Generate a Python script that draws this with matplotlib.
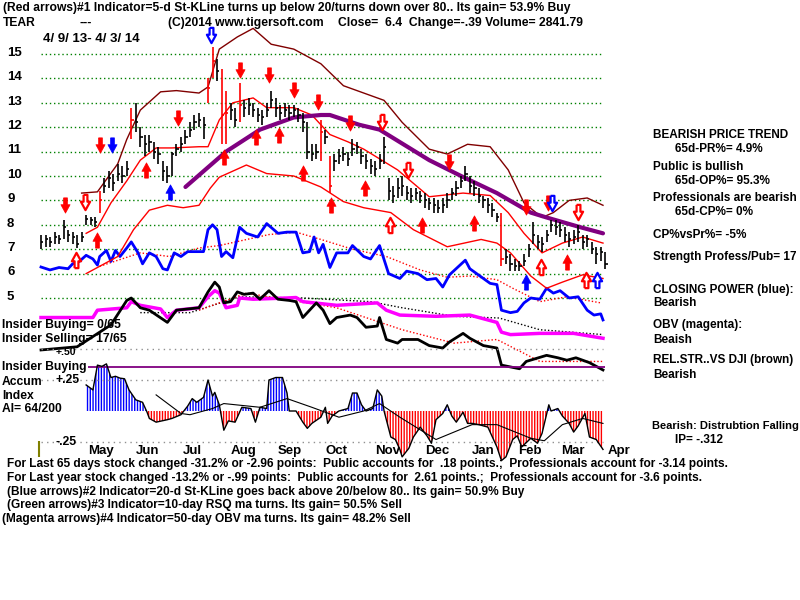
import matplotlib
matplotlib.use('Agg')
import matplotlib.pyplot as plt
import numpy as np
from matplotlib.transforms import blended_transform_factory

plt.rcParams['hatch.linewidth'] = 1.0

# price bars, one every 2 trading days (4/9/13 - 4/3/14)
close = [7.3, 7.4, 7.3, 7.5, 7.4, 7.9, 7.6, 7.5, 7.2, 7.5,
         8.25, 8.2, 8.1, 9.0, 9.6, 9.9, 9.7, 10.1, 10.0, 10.3,
         12.3, 12.2, 11.6, 11.3, 11.4, 11.0, 10.9, 10.2, 10.0, 10.9,
         11.1, 11.3, 11.6, 11.9, 12.2, 12.3, 12.1, 13.6, 14.7, 14.3,
         12.5, 12.6, 12.7, 12.3, 12.9, 12.8, 12.9, 12.7, 12.5, 12.4,
         12.7, 13.1, 12.8, 12.6, 12.7, 12.6, 12.7, 12.5, 12.2, 11.0,
         10.9, 11.0, 11.8, 11.6, 9.6, 10.6, 10.8, 10.9, 10.7, 11.1,
         11.2, 10.8, 10.6, 10.4, 10.3, 10.6, 11.2, 9.4, 9.2, 9.5,
         9.6, 9.3, 9.2, 9.3, 9.2, 9.0, 8.9, 8.8, 8.7, 8.8,
         9.0, 9.3, 9.5, 9.8, 10.1, 9.6, 9.5, 9.2, 9.0, 8.8,
         8.6, 8.3, 6.6, 6.7, 6.4, 6.3, 6.3, 6.5, 7.0, 7.6,
         7.3, 7.2, 7.6, 8.0, 7.9, 7.8, 7.6, 7.4, 7.5, 7.7,
         7.3, 7.4, 7.0, 6.8, 6.9, 6.4]
high = [7.6, 7.6, 7.5, 7.7, 7.6, 8.2, 7.8, 7.7, 7.6, 7.7,
        8.4, 8.3, 8.3, 9.4, 9.9, 10.2, 10.1, 10.5, 10.4, 10.6,
        12.8, 13.0, 12.0, 11.7, 11.7, 11.4, 11.2, 10.6, 10.4, 11.0,
        11.3, 11.6, 11.9, 12.2, 12.5, 12.6, 12.4, 14.0, 15.3, 14.8,
        14.4, 13.5, 13.0, 12.8, 13.8, 13.1, 13.2, 13.0, 12.8, 12.7,
        13.0, 13.5, 13.2, 12.9, 13.0, 12.9, 12.9, 12.8, 12.6, 12.2,
        11.3, 11.3, 12.3, 11.9, 10.8, 10.9, 11.1, 11.2, 11.0, 11.5,
        11.4, 11.1, 10.9, 10.7, 10.6, 10.9, 11.6, 9.9, 9.6, 9.9,
        10.0, 9.6, 9.5, 9.5, 9.4, 9.3, 9.1, 9.1, 9.0, 9.1,
        9.3, 9.5, 9.8, 10.0, 10.4, 10.0, 9.8, 9.5, 9.2, 9.1,
        8.9, 8.5, 8.5, 7.0, 6.8, 6.6, 6.5, 6.8, 7.2, 8.1,
        7.6, 7.5, 7.8, 8.2, 8.2, 8.1, 7.9, 7.7, 7.8, 8.0,
        7.6, 7.6, 7.3, 7.1, 7.1, 6.9]
low = [7.0, 7.1, 7.1, 7.2, 7.2, 7.4, 7.3, 7.2, 7.05, 7.3,
       8.0, 8.0, 7.9, 8.5, 9.3, 9.5, 9.4, 9.8, 9.7, 10.0,
       11.5, 11.8, 11.2, 10.8, 11.0, 10.7, 10.5, 9.8, 9.7, 10.0,
       10.8, 11.0, 11.3, 11.6, 11.9, 12.0, 11.5, 13.0, 14.0, 13.9,
       11.3, 11.3, 12.3, 12.0, 12.2, 12.4, 12.5, 12.4, 12.2, 12.1,
       12.4, 12.8, 12.4, 12.3, 12.4, 12.3, 12.4, 12.2, 11.8, 10.7,
       10.6, 10.7, 10.6, 11.3, 9.3, 10.2, 10.5, 10.6, 10.4, 10.8,
       10.9, 10.5, 10.3, 10.1, 10.0, 10.3, 10.5, 9.0, 8.9, 9.1,
       9.2, 9.0, 8.9, 9.0, 8.9, 8.7, 8.6, 8.5, 8.5, 8.5,
       8.7, 9.0, 9.2, 9.5, 9.8, 9.3, 9.2, 8.9, 8.7, 8.5,
       8.3, 8.1, 6.3, 6.4, 6.1, 6.1, 6.1, 6.3, 6.7, 7.2,
       7.0, 6.9, 7.3, 7.7, 7.6, 7.5, 7.3, 7.1, 7.2, 7.3,
       7.0, 7.1, 6.8, 6.4, 6.5, 6.2]
red_bars = [13, 20, 37, 38, 40, 41, 44, 62, 64, 102]

# bands and moving average (x = trading day)
upper_days = [18, 25, 34, 38, 44, 53, 60, 70, 74, 79, 87, 94, 102, 112, 124, 134, 143, 152,
              160, 172, 180, 189, 199, 207, 214, 222, 227, 234, 242, 249]
upper_vals = [9.3, 9.35, 10.5, 11.5, 12.7, 13.45, 13.5, 13.4, 13.65, 15.2, 15.7, 16.05, 15.4,
              15.2, 14.6, 13.7, 13.4, 13.1, 12.2, 11.1, 10.9, 11.3, 11.2, 10.25, 8.9, 8.3, 8.5,
              9.0, 9.1, 8.8]
mid_days = [20, 25, 31, 38, 44, 51, 58, 70, 74, 79, 85, 94, 100, 112, 120, 128, 136, 143,
            158, 172, 187, 199, 207, 214, 222, 231, 240, 249]
mid_vals = [7.65, 7.9, 8.9, 9.8, 10.65, 11.15, 11.15, 11.2, 11.2, 12.3, 13.0, 13.2, 12.8, 12.8,
            12.5, 11.7, 11.4, 11.1, 10.25, 9.15, 9.3, 9.2, 8.5, 7.65, 6.85, 7.25, 7.5, 7.25]
lower_days = [20, 34, 41, 48, 56, 63, 70, 75, 79, 91, 100, 112, 124, 134, 143, 155, 165, 180,
              195, 202, 208, 217, 224, 231, 240, 249]
lower_vals = [6.0, 6.7, 7.8, 8.6, 8.8, 8.7, 8.8, 9.5, 9.95, 10.45, 10.1, 10.0, 9.55, 8.95, 8.7,
              8.5, 7.8, 7.1, 7.4, 7.25, 6.85, 5.9, 5.4, 5.65, 5.95, 5.8]
ma_days = [64, 82, 97, 112, 124, 128, 141, 150, 172, 187, 202, 217, 224, 239, 249]
ma_vals = [9.55, 11.0, 11.9, 12.4, 12.5, 12.5, 12.1, 11.9, 10.65, 9.96, 9.3, 8.5, 8.3, 7.9, 7.65]

# closing power (blue) and its ma
cp_days = [0, 4, 8, 12, 14, 17, 20, 23, 25, 26, 29, 31, 33, 35, 38, 40, 43, 45, 48, 51,
           54, 56, 59, 62, 65, 70, 72, 74, 76, 78, 80, 82, 85, 88, 91, 96, 100, 105, 109, 113,
           116, 119, 121, 123, 125, 128, 131, 136, 138, 143, 146, 150, 154, 159, 162, 167, 171,
           175, 178, 181, 188, 190, 193, 199, 202, 204, 208, 211, 214, 217, 221, 224, 227, 230,
           234, 238, 242, 245, 248, 249]
cp_vals = [6.27, 6.15, 6.25, 6.2, 6.4, 6.5, 6.75, 6.6, 6.35, 6.7, 6.95, 6.5, 6.95, 6.7, 7.05,
           7.3, 6.85, 6.4, 6.85, 6.7, 6.2, 6.15, 6.85, 6.7, 6.9, 6.9, 6.9, 7.8, 8.0, 7.8, 6.7,
           6.9, 6.65, 7.9, 7.65, 7.5, 8.05, 7.65, 7.7, 7.7, 6.85, 6.9, 7.5, 6.85, 7.2, 6.25,
           6.85, 6.85, 7.15, 6.7, 6.6, 7.15, 6.0, 5.8, 6.1, 6.0, 5.75, 5.8, 5.45, 5.95, 6.55,
           6.2, 6.0, 5.6, 5.55, 4.5, 4.4, 4.45, 4.8, 5.0, 4.95, 5.4, 5.2, 5.3, 5.0, 5.05, 4.5,
           4.3, 4.35, 4.1]
cpma_days = [26, 44, 57, 70, 79, 101, 113, 124, 138, 153, 168, 180, 190, 202, 209, 221, 233, 248]
cpma_vals = [6.3, 6.85, 6.7, 7.05, 7.15, 7.6, 7.7, 7.4, 7.0, 6.7, 6.15, 5.85, 5.9, 5.75, 5.4,
             4.85, 5.05, 4.8]

# OBV (magenta) and ma
obv_days = [0, 12, 23, 25, 38, 40, 44, 53, 56, 60, 70, 74, 77, 79, 82, 87, 88, 94, 109, 113,
            116, 131, 149, 153, 159, 175, 190, 202, 204, 208, 221, 236, 249]
obv_vals = [4.2, 4.2, 4.2, 4.5, 4.6, 4.85, 4.7, 4.55, 4.2, 4.5, 4.6, 5.05, 5.3, 5.2, 4.6, 4.7,
            5.0, 4.95, 5.0, 5.02, 4.85, 4.7, 4.8, 4.5, 4.3, 4.25, 4.3, 4.0, 3.6, 3.5, 3.55,
            3.55, 3.35]
obvma_days = [44, 66, 88, 116, 146, 160, 183, 203, 221, 249]
obvma_vals = [4.4, 4.4, 5.05, 5.0, 4.85, 4.6, 4.25, 4.18, 3.7, 3.5]

# relative strength vs DJI (black) and ma
rs_days = [0, 16, 31, 38, 40, 44, 48, 56, 60, 70, 74, 77, 79, 81, 84, 87, 90, 94, 97, 101,
           105, 110, 113, 116, 119, 122, 125, 128, 131, 137, 140, 144, 149, 150, 153, 158, 160,
           167, 172, 178, 181, 187, 190, 196, 202, 204, 212, 215, 224, 229, 233, 237, 243, 249]
rs_vals = [2.87, 3.0, 3.9, 4.9, 5.0, 4.6, 4.5, 4.0, 4.5, 4.6, 5.25, 5.65, 5.45, 4.8, 4.85,
           5.25, 5.15, 5.2, 4.95, 5.3, 4.95, 4.9, 4.85, 4.2, 4.5, 4.8, 4.5, 3.95, 4.2, 4.3, 4.2,
           3.8, 3.85, 4.2, 3.3, 3.15, 3.3, 3.3, 3.05, 2.95, 3.2, 3.55, 3.35, 3.05, 2.95, 2.25,
           2.1, 2.4, 2.65, 2.55, 2.45, 2.55, 2.35, 2.05]
rsma_days = [70, 91, 131, 160, 183, 202, 221, 249]
rsma_vals = [4.5, 5.2, 4.6, 3.7, 3.15, 3.3, 2.4, 2.4]

# accumulation index
ai_days = [20, 23, 25, 27, 29, 31, 33, 35, 37, 39, 42, 45, 47, 48, 51, 56, 58, 62, 65, 67,
           69, 72, 74, 76, 77, 79, 81, 83, 86, 89, 93, 95, 97, 100, 101, 104, 107, 109, 110, 113,
           116, 118, 120, 124, 126, 127, 129, 132, 136, 138, 140, 142, 144, 147, 149, 151, 152,
           155, 157, 159, 160, 163, 165, 168, 171, 173, 175, 178, 180, 182, 184, 187, 189, 191,
           194, 198, 200, 202, 204, 206, 209, 211, 213, 217, 220, 222, 225, 226, 229, 231, 234,
           236, 238, 241, 243, 246, 249]
ai_vals = [0.21, 0.17, 0.37, 0.36, 0.38, 0.27, 0.28, 0.265, 0.26, 0.17, 0.09, 0.07, -0.01,
           -0.06, -0.09, -0.07, -0.06, -0.03, 0.04, 0.1, 0.07, 0.11, 0.25, 0.12, 0.15, 0.05,
           -0.155, -0.08, -0.09, 0.03, 0.02, -0.09, 0.03, 0.02, 0.25, 0.27, 0.27, 0.145, 0.0,
           0.0, -0.09, -0.14, -0.1, -0.05, 0.03, -0.1, -0.04, 0.0, 0.02, 0.145, 0.145, 0.05,
           0.0, 0.02, 0.17, 0.12, 0.0, -0.21, -0.23, -0.31, -0.37, -0.3, -0.21, -0.13, -0.2,
           -0.26, -0.07, -0.02, 0.05, -0.04, -0.09, -0.01, -0.1, -0.1, -0.11, -0.13, -0.21,
           -0.29, -0.40, -0.37, -0.23, -0.2, -0.29, -0.22, -0.26, -0.18, 0.05, 0.0, 0.02, -0.04,
           -0.1, -0.17, -0.12, -0.02, -0.21, -0.23, -0.31]
aima_days = [51, 62, 66, 76, 81, 97, 109, 120, 132, 143, 150, 159, 175, 191, 202, 217, 223,
             231, 240, 249]
aima_vals = [0.13, -0.02, -0.03, 0.02, 0.06, 0.03, 0.1, 0.03, -0.05, 0.0, 0.06, -0.05, -0.23,
             -0.11, -0.11, -0.22, -0.24, -0.11, -0.06, -0.1]

# signal arrows: (day, price, colour, hollow)
down_arrows = [(10.6, 8.81, 'red', False), (19.5, 8.93, 'red', True), (26.1, 11.27, 'red', False),
               (31.5, 11.27, 'blue', False), (60.7, 12.38, 'red', False), (75.3, 15.78, 'blue', True),
               (88.2, 14.34, 'red', False), (101, 14.14, 'red', False), (112, 13.52, 'red', False),
               (122.7, 13.03, 'red', False), (136.9, 12.17, 'red', False), (151.1, 12.21, 'red', True),
               (162.6, 10.25, 'red', True), (180.8, 10.57, 'red', False), (214.9, 8.73, 'red', False),
               (224.6, 8.9, 'red', False), (226.6, 8.9, 'blue', True), (237.9, 8.52, 'red', True)]
up_arrows = [(15.5, 6.56, 'red', True), (24.8, 7.38, 'red', False), (46.5, 10.25, 'red', False),
             (57.2, 9.34, 'blue', False), (81.1, 10.78, 'red', False), (95.3, 11.6, 'red', False),
             (105.4, 11.68, 'red', False), (116.1, 10.12, 'red', False), (128.5, 8.81, 'red', False),
             (143.5, 9.51, 'red', False), (154.6, 7.99, 'red', True), (168.8, 7.99, 'red', False),
             (191.8, 8.07, 'red', False), (214.9, 5.66, 'blue', False), (221.5, 6.27, 'red', True),
             (233.0, 6.48, 'red', False), (241.5, 5.74, 'red', True), (246.3, 5.74, 'blue', True)]

price_ticks = [15, 14, 13, 12, 11, 10, 9, 8, 7, 6, 5]
month_labels = ['May', 'Jun', 'Jul', 'Aug', 'Sep', 'Oct', 'Nov', 'Dec', 'Jan', 'Feb', 'Mar', 'Apr']
month_days = [26.6, 47.4, 66.9, 89.9, 110.3, 131.1, 153.7, 175.4, 195.8, 216.6, 235.7, 256.1]

header1 = "(Red arrows)#1 Indicator=5-d St-KLine turns up below 20/turns down over 80.. Its gain= 53.9% Buy"
bottom_lines = [
    (7, 464, "For Last 65 days stock changed -31.2% or -2.96 points:  Public accounts for  .18 points.;  Professionals account for -3.14 points."),
    (7, 478, "For Last year stock changed -13.2% or -.99 points:  Public accounts for  2.61 points.;  Professionals account for -3.6 points."),
    (7, 492, "(Blue arrows)#2 Indicator=20-d St-KLine goes back above 20/below 80.. Its gain= 50.9% Buy"),
    (7, 505, "(Green arrows)#3 Indicator=10-day RSQ ma turns. Its gain= 50.5% Sell"),
    (2, 519, "(Magenta arrows)#4 Indicator=50-day OBV ma turns. Its gain= 48.2% Sell"),
]
right_lines = [
    (653, 135, "BEARISH PRICE TREND"), (675, 149, "65d-PR%= 4.9%"),
    (653, 167, "Public is bullish"), (675, 181, "65d-OP%= 95.3%"),
    (653, 198, "Professionals are bearish"), (675, 212, "65d-CP%= 0%"),
    (653, 235, "CP%vsPr%= -5%"), (653, 257, "Strength Profess/Pub= 17"),
    (653, 290, "CLOSING POWER (blue):"), (653, 303, "Bearish"),
    (653, 325, "OBV (magenta):"), (653, 340, "Beaish"),
    (653, 360, "REL.STR..VS DJI (brown)"), (653, 375, "Bearish"),
    (675, 440, "IP= -.312"),
]
left_lines = [
    (2, 325, "Insider Buying= 0/65"), (2, 339, "Insider Selling= 17/65"),
    (2, 367, "Insider Buying"), (2, 382, "Accum"), (2, 396, "Index"), (2, 409, "AI= 64/200"),
]

BOLD = dict(family=['Liberation Sans', 'DejaVu Sans'], fontweight='bold', fontsize=8.7)
SIDE = dict(family=['Liberation Sans', 'DejaVu Sans'], fontweight='bold', fontsize=8.5)
BIG = dict(family=['Liberation Sans', 'DejaVu Sans'], fontweight='bold', fontsize=9.5)
NARROW = dict(family=['Liberation Sans Narrow', 'Liberation Sans', 'DejaVu Sans'], fontsize=8.6)

DOWN = [(-0.25, 1), (0.25, 1), (0.25, 0.1), (0.6, 0.1), (0, -1), (-0.6, 0.1), (-0.25, 0.1), (-0.25, 1)]
UP = [(x, -y) for x, y in DOWN]


def ftext(fig, x, y, s, **kw):
    fig.text(x / 800, 1 - y / 600, s, va='center', ha='left', **kw)


def draw_arrows(ax, arrows, verts):
    for d, p, c, hollow in arrows:
        if hollow:
            ax.plot(d, p, marker=verts, ms=11, ls='none', mfc='white', mec=c, mew=1.6, zorder=6)
        else:
            ax.plot(d, p, marker=verts, ms=11, ls='none', mfc=c, mec=c, mew=0.5, zorder=6)


fig = plt.figure(figsize=(8, 6), dpi=100)
ax = fig.add_axes([0, 0, 1, 1])
ax.set_xlim(-41 / 2.257, (800 - 41) / 2.257)
ax.set_ylim(15 - 546 / 24.4, 15 + 54 / 24.4)
ax.axis('off')
ax2 = fig.add_axes([0, 0, 1, 1], sharex=ax)
ax2.set_ylim(-189 / 124, 411 / 124)
ax2.axis('off')
ax2.patch.set_alpha(0)

# grid
ax.hlines(price_ticks, 0, 249, colors='#008000', linestyles=(0, (1, 2)), lw=1)
ax2.hlines([0.5, 0.25, -0.25], 0, 249, colors='#909090', linestyles=(0, (1, 3)), lw=1)
ax2.hlines(0.355, 21, 250, colors='#800080', lw=1.3)
ax2.vlines(-0.9, -0.37, -0.24, colors='#808000', lw=1.5)

# indicator lines
ax.plot(cpma_days, cpma_vals, color='red', lw=1, ls=(0, (1, 1.5)))
ax.plot(obvma_days, obvma_vals, color='black', lw=1, ls=(0, (1, 1.5)))
ax.plot(rsma_days, rsma_vals, color='red', lw=1, ls=(0, (1, 1.5)))
ax.plot(cp_days, cp_vals, color='#0000ff', lw=2)
ax.plot(obv_days, obv_vals, color='#ff00ff', lw=2.5)
ax.plot(rs_days, rs_vals, color='black', lw=2)

# bands
ax.plot(upper_days, upper_vals, color='#800000', lw=1)
ax.plot(mid_days, mid_vals, color='red', lw=1)
ax.plot(lower_days, lower_vals, color='red', lw=1)
ax.plot(ma_days, ma_vals, color='#800080', lw=3, solid_capstyle='round')

# price bars
bar_x = np.arange(len(close)) * 2
cols = ['red' if i in red_bars else 'black' for i in range(len(close))]
ax.vlines(bar_x, low, high, colors=cols, lw=1.2, zorder=4)
ax.hlines(close, bar_x, bar_x + 1.0, colors=cols, lw=1.2, zorder=4)

draw_arrows(ax, down_arrows, DOWN)
draw_arrows(ax, up_arrows, UP)

# accumulation index
ai = np.array(ai_vals)
ax2.fill_between(ai_days, ai, 0, where=ai >= 0, interpolate=True, facecolor='none',
                 edgecolor='blue', hatch='||||||', lw=0)
ax2.fill_between(ai_days, ai, 0, where=ai <= 0, interpolate=True, facecolor='none',
                 edgecolor='red', hatch='||||||', lw=0)
ax2.plot(ai_days, ai_vals, color='black', lw=1)
ax2.plot(aima_days, aima_vals, color='black', lw=0.8)

# labels
ylab = blended_transform_factory(fig.transFigure, ax.transData)
for p in price_ticks:
    ax.text(7 / 800, p + 0.05, str(p), transform=ylab, va='center', ha='left', **BIG)
xlab = blended_transform_factory(ax.transData, fig.transFigure)
for m, d in zip(month_labels, month_days):
    ax.text(d, 1 - 451 / 600, m, transform=xlab, va='center', ha='center', **BIG)

ftext(fig, 3, 8, header1, **BOLD)
ftext(fig, 3, 23, "TEAR", **BOLD)
ftext(fig, 80, 23, "---", **BOLD)
ftext(fig, 168, 23, "(C)2014 www.tigersoft.com", **BOLD)
ftext(fig, 338, 23, "Close=  6.4  Change=-.39 Volume= 2841.79", **BOLD)
ftext(fig, 43, 39, "4/ 9/ 13- 4/ 3/ 14", **BIG)
ftext(fig, 55, 380, "+.25", **BOLD)
ftext(fig, 55, 442, "-.25", **BOLD)
ftext(fig, 56, 352, "+.50", family=['Liberation Sans', 'DejaVu Sans'], fontweight='bold', fontsize=7.5)
for x, y, s in left_lines:
    ftext(fig, x, y, s, **BOLD)
for x, y, s in right_lines:
    ftext(fig, x, y, s, **SIDE)
ftext(fig, 652, 426, "Bearish: Distrubtion Falling", family=['Liberation Sans', 'DejaVu Sans'],
      fontweight='bold', fontsize=8.0)
for x, y, s in bottom_lines:
    ftext(fig, x, y, s, fontweight='bold', **NARROW)

fig.savefig('out.png', dpi=100)
